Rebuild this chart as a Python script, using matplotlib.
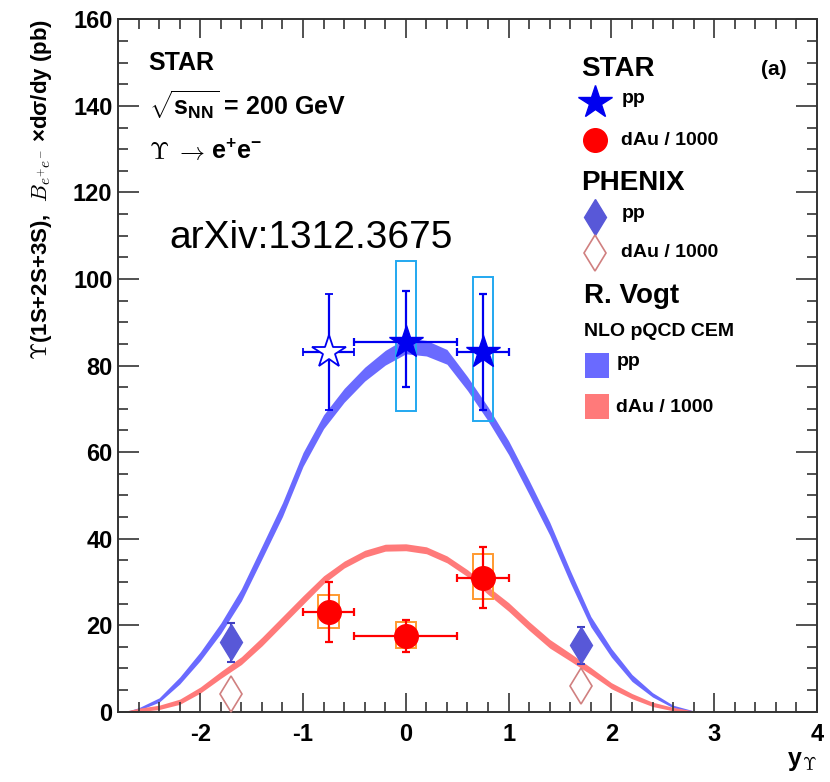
import matplotlib
matplotlib.use('Agg')
import matplotlib.pyplot as plt
from matplotlib.patches import Rectangle
import numpy as np

plt.rcParams['font.family'] = ['Liberation Sans', 'DejaVu Sans']
plt.rcParams['font.weight'] = 'bold'
plt.rcParams['axes.unicode_minus'] = False
plt.rcParams['mathtext.fontset'] = 'custom'
plt.rcParams['mathtext.rm'] = 'Liberation Sans:bold'
plt.rcParams['mathtext.bf'] = 'Liberation Sans:bold'
plt.rcParams['mathtext.it'] = 'Liberation Sans:italic:bold'

# R. Vogt NLO pQCD CEM bands (centre and half width)
band_y = [-2.7, -2.6, -2.4, -2.2, -2.0, -1.8, -1.6, -1.4, -1.2, -1.0, -0.8, -0.6, -0.4, -0.2, 0.0,
          0.2, 0.4, 0.6, 0.8, 1.0, 1.2, 1.4, 1.6, 1.8, 2.0, 2.2, 2.4, 2.6, 2.8]
pp_band_mid = [0.1, 0.6, 2.7, 7.2, 12.8, 19.3, 27.0, 36.8, 46.7, 58.3, 67.0, 73.1, 78.0, 81.8, 84.5,
               84.0, 82.0, 75.8, 68.8, 61.0, 51.8, 42.3, 31.2, 20.8, 13.6, 7.8, 3.9, 1.2, 0.1]
pp_band_half = [0.1, 0.3, 0.5, 0.8, 1.0, 1.2, 1.4, 1.5, 1.6, 1.6, 1.6, 1.6, 1.6, 1.7, 1.8,
                1.8, 1.7, 1.6, 1.6, 1.6, 1.6, 1.5, 1.4, 1.2, 1.0, 0.8, 0.5, 0.3, 0.1]
dau_band_mid = [0.1, 0.4, 1.0, 2.3, 5.0, 8.5, 11.8, 16.2, 21.0, 25.8, 30.5, 34.0, 36.5, 37.9, 38.0,
                37.3, 35.2, 32.0, 28.0, 24.2, 19.8, 15.7, 12.6, 9.4, 6.0, 3.6, 1.7, 0.6, 0.0]
dau_band_half = [0.2, 0.4, 0.5, 0.6, 0.7, 0.8, 0.9, 1.0, 1.0, 1.0, 0.9, 0.8, 0.8, 0.8, 0.8,
                 0.8, 0.8, 0.8, 0.9, 1.0, 1.0, 1.0, 0.9, 0.8, 0.7, 0.6, 0.5, 0.4, 0.2]

# STAR pp
star_pp_y = [0.0, 0.75]
star_pp_yerr = [0.5, 0.25]
star_pp_val = [85.5, 83.2]
star_pp_stat_lo = [10.4, 13.5]
star_pp_stat_hi = [11.7, 13.3]
star_pp_sys_lo = [16.0, 16.0]
star_pp_sys_hi = [18.7, 17.3]
# mirrored STAR pp point (open star)
star_pp_mirror_y = [-0.75]
star_pp_mirror_val = [83.2]
star_pp_mirror_stat = [13.4]

# STAR dAu / 1000
star_dau_y = [-0.75, 0.0, 0.75]
star_dau_yerr = [0.25, 0.5, 0.25]
star_dau_val = [23.0, 17.6, 31.0]
star_dau_stat = [7.0, 3.7, 7.0]
star_dau_sys_lo = [3.7, 2.9, 5.0]
star_dau_sys_hi = [4.0, 3.1, 5.4]

# PHENIX
phenix_y = [-1.7, 1.7]
phenix_pp_val = [16.0, 15.3]
phenix_pp_err = [4.6, 4.3]
phenix_dau_val = [4.1, 6.0]

blue = '#0000f0'
red = '#ff0000'
diam_blue = '#5858d8'
band_blue = '#6a6aff'
band_red = '#ff7a7a'

fig = plt.figure(figsize=(8.3, 7.82), dpi=100)
ax = fig.add_axes([0.1422, 0.0899, 0.8421, 0.8854])

ax.fill_between(band_y, np.array(pp_band_mid) - np.array(pp_band_half),
                np.array(pp_band_mid) + np.array(pp_band_half),
                color=band_blue, lw=0, zorder=1)
ax.fill_between(band_y, np.array(dau_band_mid) - np.array(dau_band_half),
                np.array(dau_band_mid) + np.array(dau_band_half),
                color=band_red, lw=0, zorder=1)

# systematic boxes
for y, v, lo, hi in zip(star_pp_y, star_pp_val, star_pp_sys_lo, star_pp_sys_hi):
    ax.add_patch(Rectangle((y - 0.1, v - lo), 0.2, lo + hi, fill=False,
                           ec='#22a8f0', lw=1.4, zorder=3))
for y, v, lo, hi in zip(star_dau_y, star_dau_val, star_dau_sys_lo, star_dau_sys_hi):
    ax.add_patch(Rectangle((y - 0.1, v - lo), 0.2, lo + hi, fill=False,
                           ec='#ff9a30', lw=1.4, zorder=3))

# PHENIX
ax.errorbar(phenix_y, phenix_pp_val, yerr=phenix_pp_err, fmt='d', ms=18,
            color=diam_blue, mec=diam_blue, ecolor='#4040c0', elinewidth=1.5,
            capsize=3, capthick=1.5, zorder=4)
ax.plot(phenix_y, phenix_dau_val, 'd', ms=18, mfc='white', mec='#d08080',
        mew=1.2, zorder=4)

# STAR
ax.errorbar(star_dau_y, star_dau_val, xerr=star_dau_yerr, yerr=star_dau_stat,
            fmt='o', ms=17, color=red, ecolor=red, elinewidth=1.6,
            capsize=3, capthick=1.6, zorder=5)
ax.errorbar(star_pp_mirror_y, star_pp_mirror_val, xerr=[0.25],
            yerr=star_pp_mirror_stat, fmt='*', ms=25, mfc='white', mec=blue,
            mew=1.3, ecolor=blue, elinewidth=1.6, capsize=3, capthick=1.6, zorder=5)
ax.errorbar(star_pp_y, star_pp_val, xerr=star_pp_yerr,
            yerr=[star_pp_stat_lo, star_pp_stat_hi], fmt='*', ms=25,
            color=blue, ecolor=blue, elinewidth=1.6, capsize=3, capthick=1.6, zorder=6)

ax.set_xlim(-2.8, 4.0)
ax.set_ylim(0, 160)
ax.set_xticks(np.arange(-2, 5, 1))
ax.set_xticks(np.arange(-2.6, 4.0, 0.2), minor=True)
ax.set_yticks(np.arange(0, 161, 20))
ax.set_yticks(np.arange(0, 161, 5), minor=True)
ax.tick_params(which='both', direction='in', top=True, right=True,
               labelsize=17, color='#333333', width=1.2)
ax.tick_params(axis='y', which='major', length=15, pad=4)
ax.tick_params(axis='y', which='minor', length=7.5)
ax.tick_params(axis='x', which='major', length=14, pad=8)
ax.tick_params(axis='x', which='minor', length=7)
for lab in ax.get_xticklabels() + ax.get_yticklabels():
    lab.set_fontweight('bold')
for s in ax.spines.values():
    s.set_linewidth(1.4)
    s.set_color('#333333')

ax.set_ylabel(r'$\Upsilon$(1S+2S+3S),  $B_{e^{+}e^{-}}$ ×dσ/dy (pb)', loc='top',
              fontsize=16, fontweight='bold', math_fontfamily='cm', labelpad=14)
ax.set_xlabel(r'y$_{\Upsilon}$', loc='right', fontsize=18, fontweight='bold',
              math_fontfamily='cm', labelpad=2)

# text at the top left
ax.text(0.044, 0.937, 'STAR', transform=ax.transAxes, fontsize=18,
        fontweight='bold', va='center')
ax.text(0.044, 0.876, r'$\sqrt{\mathrm{s}_{\mathrm{NN}}}$ = 200 GeV', transform=ax.transAxes,
        fontsize=18, fontweight='bold', va='center')
ups = ax.text(0.044, 0.808, r'$\Upsilon$ $\rightarrow$ ', transform=ax.transAxes,
              fontsize=18, fontweight='bold', va='center', math_fontfamily='cm')
ax.annotate(r'e$^{+}$e$^{-}$', xy=(1, 0.5), xycoords=ups, fontsize=18,
            fontweight='bold', va='center', ha='left')
ax.text(0.074, 0.684, 'arXiv:1312.3675', transform=ax.transAxes, fontsize=28,
        fontweight='normal', va='center')

# legend block on the right
ax.text(0.956, 0.928, '(a)', transform=ax.transAxes, fontsize=15,
        fontweight='bold', va='center', ha='right')
ax.text(0.662, 0.928, 'STAR', transform=ax.transAxes, fontsize=20,
        fontweight='bold', va='center')
ax.plot([0.682], [0.881], '*', ms=25, color=blue, transform=ax.transAxes, clip_on=False)
ax.text(0.720, 0.886, 'pp', transform=ax.transAxes, fontsize=14, fontweight='bold', va='center')
ax.plot([0.682], [0.825], 'o', ms=17, color=red, transform=ax.transAxes, clip_on=False)
ax.text(0.720, 0.825, 'dAu / 1000', transform=ax.transAxes, fontsize=14,
        fontweight='bold', va='center')
ax.text(0.663, 0.763, 'PHENIX', transform=ax.transAxes, fontsize=20,
        fontweight='bold', va='center')
ax.plot([0.682], [0.714], 'd', ms=18, color=diam_blue, transform=ax.transAxes, clip_on=False)
ax.text(0.720, 0.720, 'pp', transform=ax.transAxes, fontsize=14, fontweight='bold', va='center')
ax.plot([0.682], [0.662], 'd', ms=18, mfc='white', mec='#d08080', mew=1.2,
        transform=ax.transAxes, clip_on=False)
ax.text(0.720, 0.663, 'dAu / 1000', transform=ax.transAxes, fontsize=14,
        fontweight='bold', va='center')
ax.text(0.667, 0.600, 'R. Vogt', transform=ax.transAxes, fontsize=20,
        fontweight='bold', va='center')
ax.text(0.667, 0.549, 'NLO pQCD CEM', transform=ax.transAxes, fontsize=14,
        fontweight='bold', va='center')
ax.add_patch(Rectangle((0.668, 0.4815), 0.0343, 0.0361, color=band_blue,
                       transform=ax.transAxes, lw=0))
ax.text(0.713, 0.506, 'pp', transform=ax.transAxes, fontsize=14, fontweight='bold', va='center')
ax.add_patch(Rectangle((0.668, 0.4227), 0.0343, 0.0361, color=band_red,
                       transform=ax.transAxes, lw=0))
ax.text(0.713, 0.440, 'dAu / 1000', transform=ax.transAxes, fontsize=14,
        fontweight='bold', va='center')

fig.savefig('out.png', dpi=100)
